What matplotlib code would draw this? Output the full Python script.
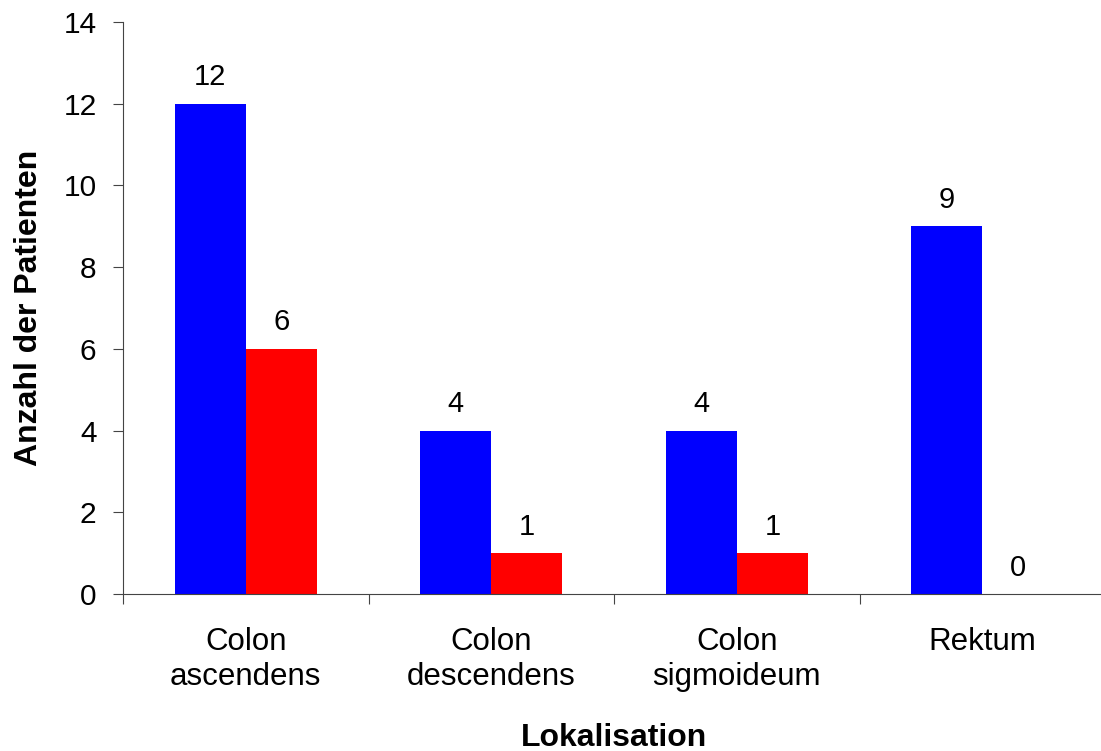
import matplotlib
matplotlib.use("Agg")
import matplotlib.pyplot as plt
import numpy as np

categories = ["Colon\nascendens", "Colon\ndescendens", "Colon\nsigmoideum", "Rektum"]
blue_vals = [12, 4, 4, 9]
red_vals = [6, 1, 1, 0]
yticks = [0, 2, 4, 6, 8, 10, 12, 14]

plt.rcParams['font.family'] = ['Liberation Sans', 'DejaVu Sans']

fig = plt.figure(figsize=(11.01, 7.51), dpi=100)
ax = fig.add_axes([123/1101, 1 - 594/751, 982/1101, (594 - 22)/751])

x = np.arange(len(categories))
w = 0.29
ax.bar(x - w/2, blue_vals, width=w, color='#0000FF')
ax.bar(x + w/2, red_vals, width=w, color='#FF0000')

for xi, v in zip(x - w/2, blue_vals):
    ax.annotate(str(v), (xi, v), xytext=(0, 9), textcoords='offset points',
                ha='center', va='bottom', fontsize=21)
for xi, v in zip(x + w/2, red_vals):
    ax.annotate(str(v), (xi, v), xytext=(0, 9), textcoords='offset points',
                ha='center', va='bottom', fontsize=21)

ax.set_xlim(-0.5, len(categories) - 0.5)
ax.set_ylim(0, 14)
ax.set_yticks(yticks)
ax.tick_params(axis='y', labelsize=21.5, length=7, direction='out', pad=12,
               color='#444444')

ax.set_xticks(np.arange(-0.5, len(categories)), labels=[])
ax.set_xticks(x, labels=categories, minor=True)
ax.tick_params(axis='x', which='major', length=7, direction='out', color='#444444')
ax.tick_params(axis='x', which='minor', length=0, labelsize=22.5, pad=24)
for lbl in ax.get_xticklabels(minor=True):
    lbl.set_linespacing(1.22)

for s in ['top', 'right']:
    ax.spines[s].set_visible(False)
for s in ['left', 'bottom']:
    ax.spines[s].set_color('#444444')

ax.set_ylabel('Anzahl der Patienten', fontsize=23, fontweight='bold', labelpad=14)
ax.set_xlabel('Lokalisation', fontsize=23, fontweight='bold', labelpad=22)

fig.savefig('out.png', dpi=100)
